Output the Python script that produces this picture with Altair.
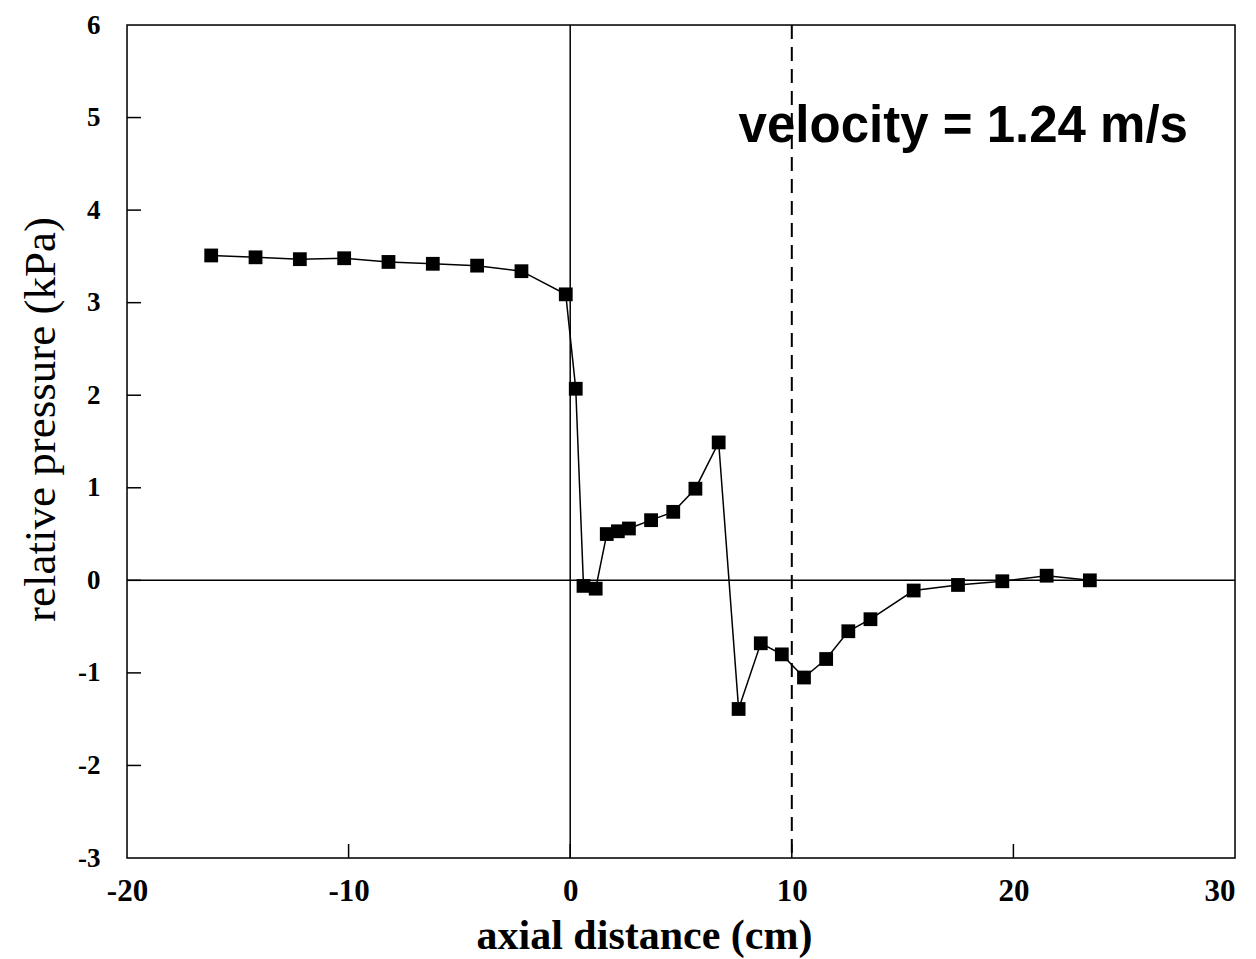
import altair as alt
import pandas as pd

x_cm = [-16.2, -14.2, -12.2, -10.2, -8.2, -6.2, -4.2, -2.2, -0.2, 0.25, 0.6, 1.15,
        1.65, 2.15, 2.65, 3.65, 4.65, 5.65, 6.7, 7.6, 8.6, 9.55, 10.55, 11.55,
        12.55, 13.55, 15.5, 17.5, 19.5, 21.5, 23.45]
p_kpa = [3.51, 3.49, 3.47, 3.48, 3.44, 3.42, 3.40, 3.34, 3.09, 2.07, -0.06, -0.09,
         0.50, 0.53, 0.56, 0.65, 0.74, 0.99, 1.49, -1.39, -0.68, -0.80, -1.05, -0.85,
         -0.55, -0.42, -0.11, -0.05, -0.01, 0.05, 0.0]
x_ticks = [-20, -10, 0, 10, 20, 30]
y_ticks = [-3, -2, -1, 0, 1, 2, 3, 4, 5, 6]
label_text = ["velocity = 1.24 m/s"]

W, H = 1108, 833

df = pd.DataFrame({"x": x_cm, "y": p_kpa})
xs = alt.Scale(domain=[-20, 30], nice=False, zero=False)
ys = alt.Scale(domain=[-3, 6], nice=False, zero=False)

lbl = "datum.value < 0 ? '-' + abs(datum.value) : '' + datum.value"

xax = alt.Axis(values=x_ticks, tickSize=0, domain=False, grid=False, labelExpr=lbl,
               labelFlush=False, labelFont="Liberation Serif", labelFontSize=31,
               labelFontWeight="bold", labelColor="black", labelPadding=18,
               labelAlign=alt.ExprRef(expr="datum.value == 30 ? 'right' : 'center'"),
               title="axial distance (cm)", titleFont="Liberation Serif",
               titleFontSize=42, titleFontWeight="bold", titleColor="black",
               titleX=517, titleY=90, titleAlign="center", titleBaseline="alphabetic")
yax = alt.Axis(values=y_ticks, tickSize=0, domain=False, grid=False, labelExpr=lbl,
               labelFlush=False, labelFont="Liberation Serif", labelFontSize=27,
               labelFontWeight="bold", labelColor="black", labelPadding=27,
               title="relative pressure (kPa)", titleFont="Liberation Serif",
               titleFontSize=45, titleFontWeight="normal", titleColor="black",
               titleX=-87, titleY=394, titleAlign="center", titleBaseline="middle",
               titleAngle=270)

base = alt.Chart(df)

line = base.mark_line(color="black", strokeWidth=1.5).encode(
    x=alt.X("x:Q", scale=xs, axis=xax),
    y=alt.Y("y:Q", scale=ys, axis=yax),
)
pts = base.mark_square(color="black", size=190, opacity=1, filled=True).encode(
    x=alt.X("x:Q", scale=xs), y=alt.Y("y:Q", scale=ys))

frame = alt.Chart(pd.DataFrame({"a": [0]})).mark_rect(
    fillOpacity=0, stroke="black", strokeWidth=1.5).encode(
    x=alt.value(0), x2=alt.value(W), y=alt.value(0), y2=alt.value(H))

zero_h = alt.Chart(pd.DataFrame({"y": [0]})).mark_rule(color="black", strokeWidth=1.5).encode(
    y=alt.Y("y:Q", scale=ys), x=alt.value(0), x2=alt.value(W))
zero_v = alt.Chart(pd.DataFrame({"x": [0]})).mark_rule(color="black", strokeWidth=1.5).encode(
    x=alt.X("x:Q", scale=xs), y=alt.value(0), y2=alt.value(H))
dash_v = alt.Chart(pd.DataFrame({"x": [10]})).mark_rule(
    color="black", strokeWidth=2, strokeDash=[14, 8]).encode(
    x=alt.X("x:Q", scale=xs), y=alt.value(0), y2=alt.value(H))

xt = alt.Chart(pd.DataFrame({"x": x_ticks[1:-1]})).mark_rule(color="black", strokeWidth=1.5).encode(
    x=alt.X("x:Q", scale=xs), y=alt.value(H - 14), y2=alt.value(H))
yt = alt.Chart(pd.DataFrame({"y": y_ticks[1:-1]})).mark_rule(color="black", strokeWidth=1.5).encode(
    y=alt.Y("y:Q", scale=ys), x=alt.value(0), x2=alt.value(14))

txt = alt.Chart(pd.DataFrame({"x": [7.6], "y": [4.74], "t": label_text})).mark_text(
    font="Liberation Sans", fontSize=51, fontWeight="bold", align="left",
    baseline="alphabetic", color="black"
).encode(x=alt.X("x:Q", scale=xs), y=alt.Y("y:Q", scale=ys), text="t:N")

chart = alt.layer(frame, zero_h, zero_v, dash_v, xt, yt, line, pts, txt).properties(
    width=W, height=H,
    autosize=alt.AutoSizeParams(type="none"),
    padding={"left": 119, "top": 17, "right": 10, "bottom": 100},
).configure_view(stroke=None).configure(background="white")

chart.save("out.html", embed_options={"renderer": "svg", "actions": False})
